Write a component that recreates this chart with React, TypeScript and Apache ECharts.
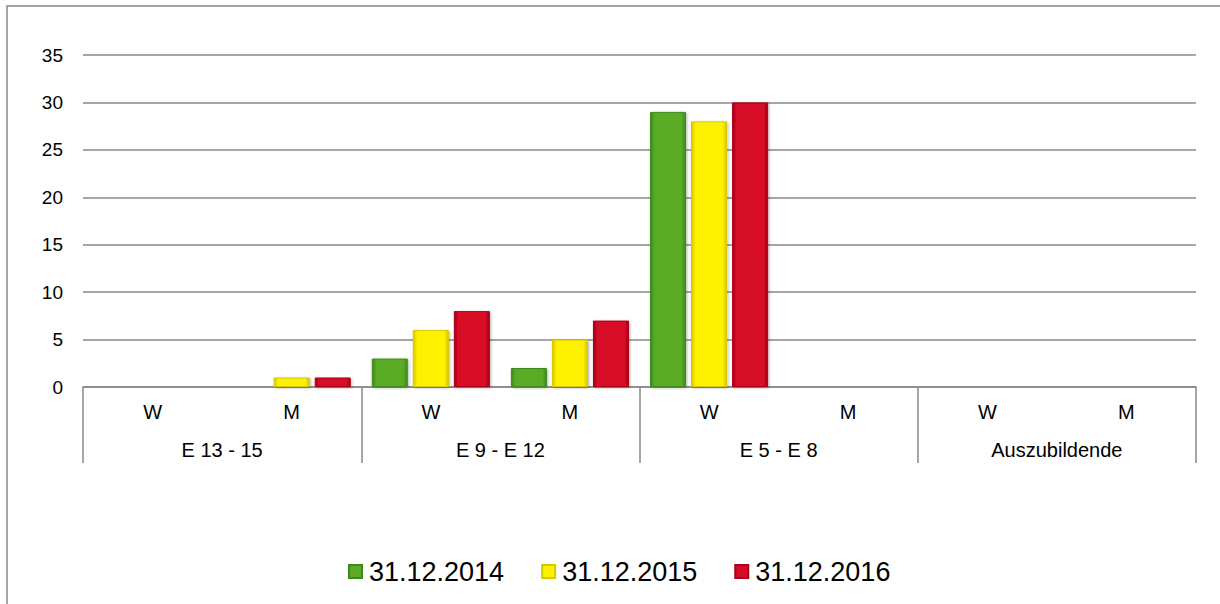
import React, { useEffect, useRef } from "react";
import * as echarts from "echarts";

const subCategories = ["W", "M", "W", "M", "W", "M", "W", "M"];
const groups = ["E 13 - 15", "E 9 - E 12", "E 5 - E 8", "Auszubildende"];
const seriesNames = ["31.12.2014", "31.12.2015", "31.12.2016"];
const values2014 = [0, 0, 3, 2, 29, 0, 0, 0];
const values2015 = [0, 1, 6, 5, 28, 0, 0, 0];
const values2016 = [0, 1, 8, 7, 30, 0, 0, 0];
const colors = ["#5aab28", "#fff200", "#d80a26"];
const edgeColors = ["#3f8a1c", "#d8c800", "#a80018"];

const FONT = "Liberation Sans, Arial, sans-serif";

export default function App() {
  const ref = useRef<HTMLDivElement>(null);
  useEffect(() => {
    if (!ref.current) return;
    const chart = echarts.init(ref.current, null, { renderer: "svg" });
    const data = [values2014, values2015, values2016];
    const grad = (c: string, e: string) =>
      new echarts.graphic.LinearGradient(0, 0, 1, 0, [
        { offset: 0, color: e },
        { offset: 0.12, color: c },
        { offset: 0.88, color: c },
        { offset: 1, color: e },
      ]);
    chart.setOption({
      animation: false,
      graphic: [
        {
          type: "rect",
          shape: { x: 7, y: 6, width: 1300, height: 700 },
          style: { fill: "none", stroke: "#888", lineWidth: 1.5 },
          silent: true,
        },
      ],
      grid: { left: 83, right: 24, top: 55, bottom: 217, containLabel: false },
      legend: {
        data: seriesNames,
        left: 343,
        top: 553,
        itemWidth: 13,
        itemHeight: 13,
        itemGap: 37,
        icon: "rect",
        textStyle: { fontSize: 27, color: "#000", fontFamily: FONT, padding: [0, 0, 0, 2] },
      },
      xAxis: [
        {
          type: "category",
          data: subCategories,
          position: "bottom",
          axisLine: { show: true, lineStyle: { color: "#888", width: 1.5 } },
          axisTick: { show: false },
          axisLabel: { fontSize: 20, color: "#000", margin: 15, fontFamily: FONT },
        },
        {
          type: "category",
          data: groups,
          position: "bottom",
          axisLine: { show: false },
          axisTick: { show: true, length: 76, interval: 0, lineStyle: { color: "#888", width: 1.5 } },
          axisLabel: { fontSize: 20, color: "#000", margin: 53, interval: 0, fontFamily: FONT },
        },
      ],
      yAxis: {
        type: "value",
        min: 0,
        max: 35,
        interval: 5,
        axisLine: { show: false },
        axisTick: { show: false },
        splitLine: { lineStyle: { color: "#888", width: 1.5 } },
        axisLabel: { fontSize: 19, color: "#000", margin: 20, fontFamily: FONT },
      },
      series: seriesNames.map((name, i) => ({
        name,
        type: "bar",
        xAxisIndex: 0,
        data: data[i],
        barWidth: 36,
        barGap: "14%",
        itemStyle: {
          color: grad(colors[i], edgeColors[i]),
          borderColor: edgeColors[i],
          borderWidth: 1,
          shadowColor: "rgba(0,0,0,0.3)",
          shadowBlur: 3,
          shadowOffsetX: 1,
          shadowOffsetY: 1,
        },
      })),
      color: colors,
    });
    return () => chart.dispose();
  }, []);
  return (
    <div
      ref={ref}
      style={{ position: "fixed", left: 0, top: 0, width: 1220, height: 604, background: "#fff" }}
    />
  );
}
